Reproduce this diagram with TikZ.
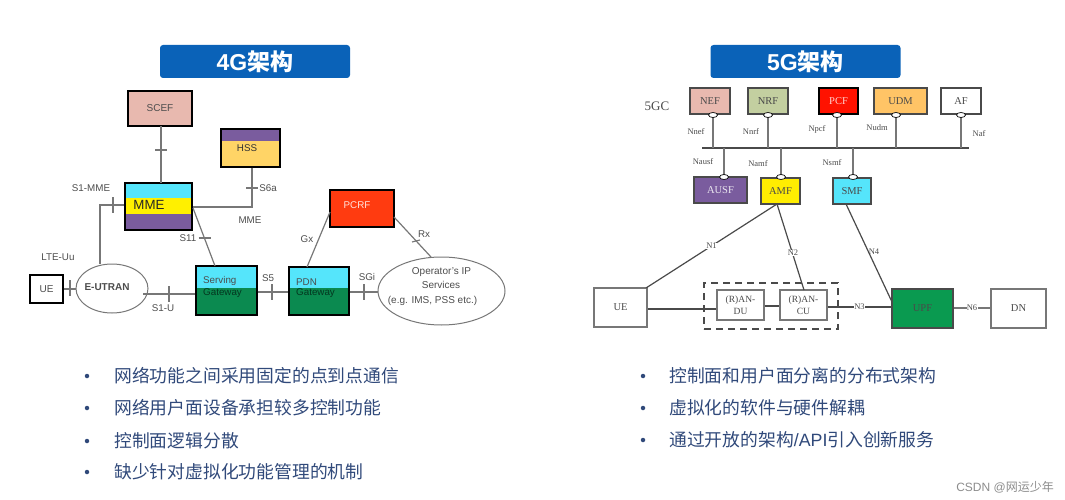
\documentclass[tikz,border=0pt]{standalone}
\usepackage{fontspec}
\setmainfont{Liberation Sans}
\newfontfamily\cjk{Noto Sans CJK SC}
\newfontfamily\serif{Liberation Serif}
\usetikzlibrary{positioning}
\usetikzlibrary{shapes.geometric}
\definecolor{titleblue}{HTML}{0A62B8}
\definecolor{bandcyan}{HTML}{55E5FB}
\definecolor{bandpurple}{HTML}{7A5C9E}
\definecolor{bandgreen}{HTML}{0B8A50}
\definecolor{bandyellow}{HTML}{FFF000}
\definecolor{softyellow}{HTML}{FFD466}
\definecolor{softpink}{HTML}{E8B9AF}
\definecolor{softolive}{HTML}{C3CFA0}
\definecolor{softorange}{HTML}{FFC466}
\definecolor{strongred}{HTML}{FF1200}
\definecolor{pcrfred}{HTML}{FF3B10}
\definecolor{upfgreen}{HTML}{0A9A50}
\definecolor{linegray}{HTML}{777777}
\definecolor{linedark}{HTML}{4A4A4A}
\definecolor{textgray}{HTML}{4D4D4D}
\definecolor{bullettext}{HTML}{30497A}
\tikzset{
	titlebox/.style={fill=titleblue, rounded corners=3, minimum width=190, minimum height=33, inner sep=0, text=white, font=\bfseries\fontsize{23}{24}\selectfont},
	box/.style={draw=black, line width=1.2, inner sep=0, text=textgray, font=\fontsize{10}{10}\selectfont},
	serifbox/.style={draw=linedark, line width=1.1, inner sep=0, text=linedark, align=center, font=\serif\fontsize{10.5}{11}\selectfont},
	lab/.style={inner sep=0, text=textgray, font=\fontsize{9.8}{10}\selectfont},
	seriflab/.style={inner sep=0, text=linedark, font=\serif\fontsize{8.5}{9}\selectfont},
	oval/.style={draw=linegray, ellipse, fill=white, line width=1, inner sep=0, align=center, text=textgray},
	port/.style={draw=black, circle, fill=white, line width=0.7, inner sep=0, minimum size=5, xscale=1.8},
	line/.style={draw=linegray, line width=1.2},
	darkline/.style={draw=linedark, line width=1.2},
	bullet/.style={anchor=west, inner sep=0, text=bullettext, font=\cjk\fontsize{17.8}{18}\selectfont},
	dot/.style={circle, fill=bullettext, inner sep=0, minimum size=4.5}
}
\begin{document}
\begin{tikzpicture}[x=1pt, y=-1pt]
	\useasboundingbox (0, 0) rectangle (1065, 500);
	% 4G
	\node[titlebox] (title4g) at (255, 61.5) {4G{\cjk 架构}};
	\fill[softpink] (128, 91) rectangle (192, 126);
	\fill[softyellow] (221, 129) rectangle (280, 167);
	\fill[bandpurple] (221, 129) rectangle (280, 141);
	\fill[bandcyan] (125, 183) rectangle (192, 198);
	\fill[bandyellow] (125, 198) rectangle (192, 214);
	\fill[bandpurple] (125, 214) rectangle (192, 230);
	\fill[bandcyan] (196, 266) rectangle (257, 288);
	\fill[bandgreen] (196, 288) rectangle (257, 315);
	\fill[bandcyan] (289, 267) rectangle (349, 288);
	\fill[bandgreen] (289, 288) rectangle (349, 315);
	\fill[pcrfred] (330, 190) rectangle (394, 227);
	
	\node[box, minimum width=64, minimum height=35] (scef) at (160, 108.5) {SCEF};
	\node[box, minimum width=59, minimum height=38] (hss) at (250.5, 148) {};
	\node[box, minimum width=67, minimum height=47] (mme) at (158.5, 206.5) {};
	\node[box, minimum width=33, minimum height=28] (ue) at (46.5, 289) {UE};
	\node[box, minimum width=61, minimum height=49] (sgw) at (226.5, 290.5) {};
	\node[box, minimum width=60, minimum height=48] (pgw) at (319, 291) {};
	\node[box, minimum width=64, minimum height=37] (pcrf) at (362, 208.5) {};
	\node[oval, minimum width=72, minimum height=49] (eutran) at (112, 288.5) {};
	\node[oval, minimum width=127, minimum height=68] (ops) at (441.5, 291) {};
	
	\node[lab, text=black!80] (hsstext) at (247, 148) {HSS};
	\node[lab, text=black!85, font=\fontsize{13.3}{14}\selectfont] (mmetext) at (149, 205) {MME};
	\node[lab, font=\bfseries\fontsize{10}{10}\selectfont] (eutext) at (107, 287) {E-UTRAN};
	\node[lab, anchor=west] (servtext) at (203, 281) {Serving};
	\node[lab, anchor=west, text=black!60!bandgreen] (gwtext) at (203, 293) {Gateway};
	\node[lab, anchor=west] (pdntext) at (296, 282) {PDN};
	\node[lab, anchor=west, text=black!60!bandgreen] (pdngw) at (296, 293) {Gateway};
	\node[lab, text=white!85!pcrfred] (pcrftext) at (357, 205) {PCRF};
	\node[lab, font=\fontsize{10}{11}\selectfont] (opstext) at (441.5, 272) {Operator's IP};
	\node[lab, font=\fontsize{10}{11}\selectfont] (opssvc) at (441, 284.5) {Services};
	\node[lab, font=\fontsize{10}{11}\selectfont] (opseg) at (432.5, 301) {(e.g. IMS, PSS etc.)};
	
	\node[lab] (s1mme) at (91, 188) {S1-MME};
	\node[lab] (s6a) at (268, 188) {S6a};
	\node[lab] (mmeplain) at (250, 220) {MME};
	\node[lab] (s11) at (188, 238) {S11};
	\node[lab] (lteuu) at (58, 257) {LTE-Uu};
	\node[lab] (s1u) at (163, 308) {S1-U};
	\node[lab] (s5) at (268, 278) {S5};
	\node[lab] (sgi) at (367, 277) {SGi};
	\node[lab] (gx) at (307, 239) {Gx};
	\node[lab] (rx) at (424, 234) {Rx};
	
	\draw[line] (161, 126) -- (161, 183);
	\draw[line] (hss.south -| 252, 0) -- (252, 207) -- (mme.east |- 0, 207);
	\coordinate (s1top) at (100, 205);
	\draw[line] (100, 264) -- (s1top) -- (s1top -| mme.west);
	\draw[line] (193, 208) -- (215, 266);
	\draw[line] (ue.east) -- (eutran.west |- ue.east);
	\draw[line] (143, 294) -- (sgw.west |- 0, 294);
	\draw[line] (sgw.east |- 0, 292) -- (pgw.west |- 0, 292);
	\draw[line] (pgw.east |- 0, 292) -- (ops.west |- 0, 292);
	\draw[line] (330, 212) -- (307, 267);
	\draw[line] (394, 217) -- (431, 257);
	
	% short marks across the lines
	\foreach \x/\y in {70/288, 113/205, 169/294, 272/292, 364/292}
		\draw[line] (\x, \y-8) -- (\x, \y+8);
	\foreach \x/\y in {161/150, 252/188, 204.5/238}
		\draw[line] (\x-6, \y) -- (\x+6, \y);
	\draw[line] (412, 242) -- (420, 240);
	
	% 5G
	\node[titlebox] (title5g) at (805.5, 61.5) {5G{\cjk 架构}};
	\node[seriflab, font=\serif\fontsize{13}{13}\selectfont] (fivegc) at (657, 106) {5GC};
	\node[serifbox, fill=softpink, minimum width=40, minimum height=26] (nef) at (710, 101) {NEF};
	\node[serifbox, fill=softolive, minimum width=40, minimum height=26] (nrf) at (768, 101) {NRF};
	\node[serifbox, fill=strongred, minimum width=39, minimum height=26, draw=black, text=white!80!strongred] (pcf) at (838.5, 101) {PCF};
	\node[serifbox, fill=softorange, minimum width=53, minimum height=26] (udm) at (900.5, 101) {UDM};
	\node[serifbox, minimum width=40, minimum height=26] (af) at (961, 101) {AF};
	\node[serifbox, fill=bandpurple, minimum width=53, minimum height=26, text=white!85!bandpurple] (ausf) at (720.5, 190) {AUSF};
	\node[serifbox, fill=yellow!95!orange, minimum width=39, minimum height=26] (amf) at (780.5, 191) {AMF};
	\node[serifbox, fill=bandcyan, minimum width=38, minimum height=26] (smf) at (852, 191) {SMF};
	
	\coordinate (busl) at (702, 148);
	\coordinate (busr) at (969, 148);
	\draw[darkline] (busl) -- (busr);
	\foreach \name/\x in {nef/713, nrf/768, pcf/837, udm/896, af/961} {
		\draw[line] (\x, 148) -- (\x, 115);
		\node[port] (p\name) at (\x, 115) {};
	}
	\foreach \name/\x in {ausf/724, amf/781, smf/853} {
		\draw[line] (\x, 148) -- (\x, 177);
		\node[port] (p\name) at (\x, 177) {};
	}
	
	\node[seriflab] (nnef) at (696, 132) {Nnef};
	\node[seriflab] (nnrf) at (751, 132) {Nnrf};
	\node[seriflab] (npcf) at (817, 129) {Npcf};
	\node[seriflab] (nudm) at (877, 128) {Nudm};
	\node[seriflab] (naf) at (979, 134) {Naf};
	\node[seriflab] (nausf) at (703, 162) {Nausf};
	\node[seriflab] (namf) at (758, 164) {Namf};
	\node[seriflab] (nsmf) at (832, 163) {Nsmf};
	
	\node[serifbox, draw=linegray, minimum width=53, minimum height=39] (ue5) at (620.5, 307.5) {UE};
	\node[draw=linedark, dash pattern=on 7 off 5, line width=1.2, minimum width=134, minimum height=46, inner sep=0] (ran) at (771, 306) {};
	\node[serifbox, draw=linegray, minimum width=47, minimum height=30, font=\serif\fontsize{9.5}{11.5}\selectfont] (du) at (740.5, 305) {(R)AN-\\DU};
	\node[serifbox, draw=linegray, minimum width=47, minimum height=30, font=\serif\fontsize{9.5}{11.5}\selectfont] (cu) at (803.5, 305) {(R)AN-\\CU};
	\node[serifbox, fill=upfgreen, minimum width=61, minimum height=39] (upf) at (922.5, 308.5) {UPF};
	\node[serifbox, draw=linegray, minimum width=55, minimum height=39] (dn) at (1018.5, 308.5) {DN};
	
	\draw[darkline] (777, 204) -- node[seriflab, fill=white, inner sep=0.3] (n1) {N1} (646, 288);
	\draw[darkline] (777, 204) -- (804, 290);
	\draw[darkline] (846, 204) -- (892, 302);
	\draw[darkline] (ue5.east |- 0, 309) -- (du.west |- 0, 309);
	\draw[darkline] (du.east |- 0, 306) -- (cu.west |- 0, 306);
	\draw[darkline] (cu.east |- 0, 307) -- node[seriflab, fill=white, inner sep=0.3] (n3) {N3} (upf.west |- 0, 307);
	\draw[line] (upf.east |- 0, 308) -- node[seriflab, fill=white, inner sep=0.3] (n6) {N6} (dn.west |- 0, 308);
	\node[seriflab, fill=white, inner sep=0.3] (n2) at (793, 253) {N2};
	\node[seriflab] (n4) at (874, 252) {N4};
	
	% bullets
	\foreach \name/\y/\txt in {a/376/网络功能之间采用固定的点到点通信, b/408/网络用户面设备承担较多控制功能, c/441/控制面逻辑分散, d/472/缺少针对虚拟化功能管理的机制} {
		\node[dot] (dot\name) at (87, \y) {};
		\node[bullet] (txt\name) at (114, \y) {\txt};
	}
	\foreach \name/\y/\txt in {e/376/控制面和用户面分离的分布式架构, f/408/虚拟化的软件与硬件解耦, g/440/{通过开放的架构{\rmfamily /API}引入创新服务}} {
		\node[dot] (dot\name) at (643, \y) {};
		\node[bullet] (txt\name) at (669, \y) {\txt};
	}
	\node[anchor=east, inner sep=0, text=black!45, font=\fontsize{12}{12}\selectfont] (mark) at (1054, 487) {CSDN @{\cjk 网运少年}};
\end{tikzpicture}
\end{document}
